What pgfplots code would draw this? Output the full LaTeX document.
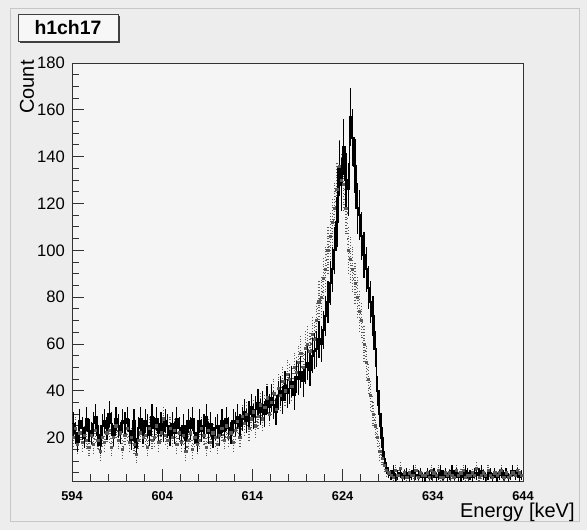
\documentclass[border=0pt]{standalone}
\usepackage{pgfplots}
\pgfplotsset{compat=1.18}
\usepackage{pgfplotstable}
\usepackage{fontspec}
\setmainfont{Liberation Sans}

\pgfplotstableread[row sep=\\]{
x b g\\
594.00 26 20\\ 594.25 22 24\\ 594.50 18 17\\ 594.75 27 22\\
595.00 24 18\\ 595.25 20 21\\ 595.50 28 19\\ 595.75 23 16\\
596.00 22 21\\ 596.25 26 17\\ 596.50 29 23\\ 596.75 21 19\\
597.00 17 14\\ 597.25 25 20\\ 597.50 27 18\\ 597.75 24 22\\
598.00 30 23\\ 598.25 26 16\\ 598.50 21 20\\ 598.75 28 25\\
599.00 25 19\\ 599.25 22 22\\ 599.50 27 15\\ 599.75 26 21\\
600.00 28 24\\ 600.25 23 18\\ 600.50 19 20\\ 600.75 27 17\\
601.00 16 13\\ 601.25 24 19\\ 601.50 28 22\\ 601.75 22 20\\
602.00 27 21\\ 602.25 25 16\\ 602.50 21 24\\ 602.75 29 19\\
603.00 24 20\\ 603.25 28 25\\ 603.50 22 18\\ 603.75 26 22\\
604.00 23 28\\ 604.25 27 21\\ 604.50 25 19\\ 604.75 21 24\\
605.00 26 20\\ 605.25 22 23\\ 605.50 28 17\\ 605.75 24 22\\
606.00 21 18\\ 606.25 25 21\\ 606.50 19 14\\ 606.75 27 19\\
607.00 24 22\\ 607.25 28 15\\ 607.50 22 20\\ 607.75 18 17\\
608.00 27 19\\ 608.25 23 24\\ 608.50 25 21\\ 608.75 29 16\\
609.00 22 23\\ 609.25 26 18\\ 609.50 20 22\\ 609.75 24 20\\
610.00 25 17\\ 610.25 21 21\\ 610.50 27 24\\ 610.75 23 19\\
611.00 28 25\\ 611.25 24 20\\ 611.50 22 22\\ 611.75 27 18\\
612.00 26 23\\ 612.25 29 27\\ 612.50 25 20\\ 612.75 28 29\\
613.00 31 26\\ 613.25 27 30\\ 613.50 30 24\\ 613.75 33 28\\
614.00 29 31\\ 614.25 32 25\\ 614.50 35 29\\ 614.75 31 34\\
615.00 34 28\\ 615.25 30 33\\ 615.50 36 37\\ 615.75 33 30\\
616.00 37 35\\ 616.25 34 39\\ 616.50 31 32\\ 616.75 38 41\\
617.00 40 38\\ 617.25 36 44\\ 617.50 42 40\\ 617.75 39 47\\
618.00 41 45\\ 618.25 44 42\\ 618.50 38 50\\ 618.75 46 48\\
619.00 45 52\\ 619.25 48 56\\ 619.50 44 50\\ 619.75 50 58\\
620.00 52 60\\ 620.25 49 57\\ 620.50 55 64\\ 620.75 57 62\\
621.00 58 70\\ 621.25 62 78\\ 621.50 60 80\\ 621.75 66 88\\
622.00 72 92\\ 622.25 78 100\\ 622.50 86 106\\ 622.75 92 112\\
623.00 100 118\\ 623.25 112 126\\ 623.50 135 136\\ 623.75 128 130\\
624.00 144 128\\ 624.25 130 118\\ 624.50 126 100\\ 624.75 157 96\\
625.00 148 92\\ 625.25 136 86\\ 625.50 118 80\\ 625.75 115 74\\
626.00 106 70\\ 626.25 98 60\\ 626.50 92 52\\ 626.75 84 45\\
627.00 78 38\\ 627.25 72 30\\ 627.50 58 25\\ 627.75 40 20\\
628.00 30 14\\ 628.25 20 11\\ 628.50 11 8\\ 628.75 7 6\\
629.00 5 5\\ 629.25 4 4\\ 629.50 6 3\\ 629.75 3 6\\
630.00 4 4\\ 630.25 5 7\\ 630.50 3 3\\ 630.75 4 5\\
631.00 5 3\\ 631.25 3 5\\ 631.50 4 4\\ 631.75 6 4\\
632.00 4 6\\ 632.25 4 3\\ 632.50 5 5\\ 632.75 3 4\\
633.00 3 4\\ 633.25 5 5\\ 633.50 4 3\\ 633.75 4 6\\
634.00 5 5\\ 634.25 3 4\\ 634.50 4 6\\ 634.75 6 3\\
635.00 4 3\\ 635.25 5 5\\ 635.50 3 4\\ 635.75 4 5\\
636.00 6 4\\ 636.25 4 3\\ 636.50 5 6\\ 636.75 3 4\\
637.00 3 5\\ 637.25 4 6\\ 637.50 6 3\\ 637.75 5 4\\
638.00 4 4\\ 638.25 3 5\\ 638.50 5 4\\ 638.75 4 7\\
639.00 5 3\\ 639.25 6 4\\ 639.50 4 5\\ 639.75 3 4\\
640.00 4 6\\ 640.25 5 4\\ 640.50 3 3\\ 640.75 5 5\\
641.00 3 4\\ 641.25 4 5\\ 641.50 5 6\\ 641.75 4 3\\
642.00 5 5\\ 642.25 3 3\\ 642.50 4 4\\ 642.75 6 5\\
643.00 4 4\\ 643.25 5 6\\ 643.50 3 5\\ 643.75 4 4\\
644.00 4 4\\
}\data

\begin{document}
\begin{tikzpicture}[x=1pt,y=1pt]
\useasboundingbox (0,0) rectangle (293.5,265);
\fill[black!7] (0,0) rectangle (293.5,265);
\draw[black!22, line width=0.4pt] (5,4.5) rectangle (289.5,261);
\begin{axis}[
  at={(36pt,24.5pt)}, anchor=south west,
  scale only axis, width=225.5pt, height=209pt,
  xmin=594, xmax=644, ymin=1.5, ymax=180,
  axis background/.style={fill=black!4},
  axis line style={black!80, line width=0.5pt},
  xtick={594,604,...,644},
  minor xtick={596,598,...,642},
  ytick={20,40,...,180},
  minor ytick={5,10,...,175},
  tick align=inside,
  xtick pos=bottom, ytick pos=left,
  major tick length=6pt, minor tick length=3.3pt,
  tick style={black!80, line width=0.5pt},
  /pgf/number format/assume math mode=true,
  /pgf/number format/1000 sep={},
  xticklabel style={font=\bfseries\fontsize{6.4}{7}\selectfont, yshift=-1.5pt},
  yticklabel style={font=\fontsize{8.3}{9}\selectfont},
  clip=true,
]
% gray dotted series with error bars
\addplot[black!65, dotted, line width=0.6pt, const plot mark left, forget plot] table[x=x, y=g] {\data};
\addplot[draw=none, mark=square*, mark size=0.55pt, mark options={solid, fill=black!65, draw=black!65}, forget plot,
  error bars/.cd, y dir=both, y explicit,
  error bar style={black!65, densely dotted, line width=0.6pt}, error mark=none]
  table[x expr=\thisrow{x}+0.125, y=g, y error expr={sqrt(\thisrow{g})}] {\data};
% black solid series with error bars
\addplot[black, line width=0.85pt, mark=none, const plot mark left, forget plot] table[x=x, y=b] {\data};
\addplot[draw=none, mark=none, forget plot,
  error bars/.cd, y dir=both, y explicit,
  error bar style={black, line width=0.6pt}, error mark=none]
  table[x expr=\thisrow{x}+0.125, y=b, y error expr={sqrt(\thisrow{b})}] {\data};
\end{axis}
\node[rotate=90, anchor=east, inner sep=0pt, font=\fontsize{10}{12}\selectfont] at (13.5,235) {Count};
\node[anchor=east, inner sep=0pt, font=\fontsize{10}{12}\selectfont] at (287.5,9) {Energy [keV]};
\draw[black!75, line width=1pt] (10,244) -- (59.5,244) -- (59.5,257);
\node[draw=black!75, fill=black!3, line width=0.5pt, minimum width=50pt, minimum height=13.5pt, inner sep=0pt,
  font=\bfseries\fontsize{9.7}{11}\selectfont] at (34,251.2) {h1ch17};
\end{tikzpicture}
\end{document}
